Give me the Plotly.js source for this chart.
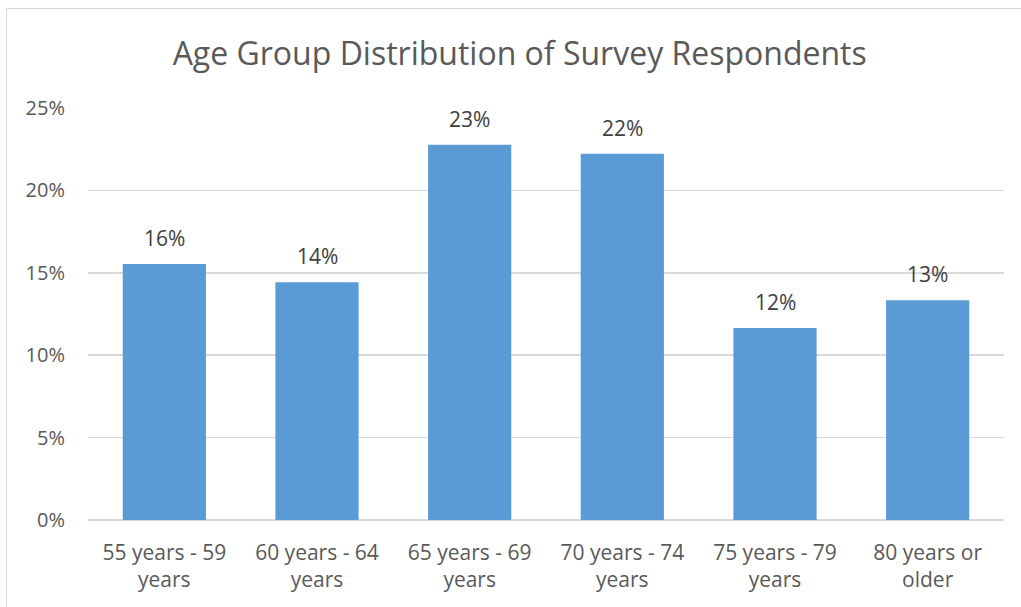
<!DOCTYPE html>
<html>
<head>
<meta charset="utf-8">
<script src="https://cdn.plot.ly/plotly-3.0.1.min.js"></script>
<style>
  html, body { margin: 0; padding: 0; background: #ffffff; overflow: hidden; }
  #chart { position: absolute; left: 0; top: 0; width: 1021px; height: 607px; }
  #frame { position: absolute; left: 6px; top: 8px; width: 1100px; height: 700px;
           border: 1.5px solid #d9d9d9; pointer-events: none; }
</style>
</head>
<body>
<div id="chart"></div>
<div id="frame"></div>
<script>
const categories = [
  "55 years - 59<br>years",
  "60 years - 64<br>years",
  "65 years - 69<br>years",
  "70 years - 74<br>years",
  "75 years - 79<br>years",
  "80 years or<br>older"
];
const shares = [15.53, 14.42, 22.77, 22.23, 11.65, 13.33];
const labels = shares.map(v => Math.round(v) + "%");
const chartTitle = "Age Group Distribution of Survey Respondents";

const FONT = "Open Sans, Liberation Sans, Arial, sans-serif";

const trace = {
  type: "bar",
  x: categories,
  y: shares,
  marker: { color: "#5b9bd5", line: { width: 0 } },
  hoverinfo: "skip"
};

const annotations = categories.map((c, i) => ({
  x: c, y: shares[i], xref: "x", yref: "y",
  text: labels[i], showarrow: false,
  yanchor: "middle", yshift: 26,
  font: { family: FONT, size: 21, color: "#404040" }
}));

const layout = {
  width: 1021, height: 607,
  margin: { l: 88, r: 17, t: 108, b: 87 },
  paper_bgcolor: "#ffffff",
  plot_bgcolor: "#ffffff",
  bargap: 0.455,
  showlegend: false,
  title: {
    text: chartTitle,
    x: 0.509, xref: "container", xanchor: "center",
    y: 0.912, yref: "container", yanchor: "middle",
    font: { family: FONT, size: 32, color: "#595959" }
  },
  xaxis: {
    type: "category",
    showgrid: false, zeroline: false, showline: false,
    ticks: "",
    ticklabelstandoff: 18,
    tickfont: { family: FONT, size: 21, color: "#595959" }
  },
  yaxis: {
    range: [0, 25], dtick: 5, tick0: 0,
    ticksuffix: "%",
    showgrid: true, gridcolor: "#d9d9d9", gridwidth: 1.5,
    zeroline: true, zerolinecolor: "#d9d9d9", zerolinewidth: 1.5,
    showline: false, ticks: "",
    ticklabelstandoff: 22,
    tickfont: { family: FONT, size: 20, color: "#595959" }
  },
  annotations: annotations
};

Plotly.newPlot("chart", [trace], layout, { displayModeBar: false, staticPlot: true });
</script>
</body>
</html>
